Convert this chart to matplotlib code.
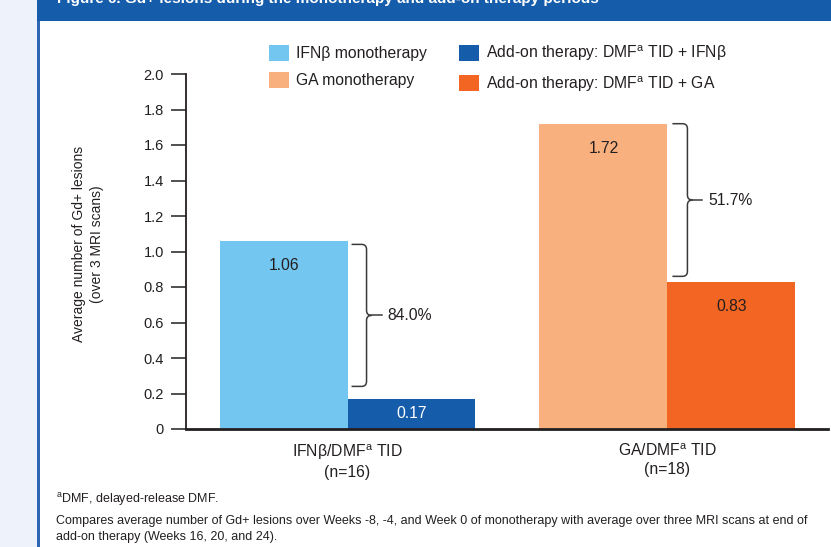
import matplotlib
matplotlib.use("Agg")
import matplotlib.pyplot as plt
from matplotlib import font_manager
from matplotlib.patches import Rectangle, PathPatch
from matplotlib.path import Path

plt.rcParams['font.family'] = ['Liberation Sans', 'DejaVu Sans']
plt.rcParams['mathtext.fontset'] = 'custom'
plt.rcParams['mathtext.rm'] = 'Liberation Sans'
plt.rcParams['mathtext.it'] = 'Liberation Sans'

# ---- data ----
groups = ["IFNβ/DMF$^{\\mathrm{a}}$ TID\n(n=16)", "GA/DMF$^{\\mathrm{a}}$ TID\n(n=18)"]
monotherapy = [1.06, 1.72]
add_on = [0.17, 0.83]
reductions = ["84.0%", "51.7%"]
brace_spans = [(1.04, 0.24), (1.72, 0.86)]
legend_labels = ["IFNβ monotherapy", "GA monotherapy",
                 "Add-on therapy: DMF$^{\\mathrm{a}}$ TID + IFNβ",
                 "Add-on therapy: DMF$^{\\mathrm{a}}$ TID + GA"]
yticks = [0, 0.2, 0.4, 0.6, 0.8, 1.0, 1.2, 1.4, 1.6, 1.8, 2.0]

mono_colors = ["#73C6F0", "#F8B07F"]
addon_colors = ["#155DAB", "#F26522"]
text_color = "#231F20"
header_blue = "#155DAB"

# condensed face for the footnotes when available
try:
    font_manager.findfont("Liberation Sans Narrow", fallback_to_default=False)
    note_family, note_size = ["Liberation Sans Narrow", "DejaVu Sans"], 10.8
except Exception:
    note_family, note_size = ["Liberation Sans", "DejaVu Sans"], 9.0

W, H = 831, 547
fig = plt.figure(figsize=(W / 100, H / 100), dpi=100)
fig.patch.set_facecolor("white")

def fx(px):
    return px / W

def fy(py):
    return 1 - py / H

# page framing: side panel, header band and rule
fig.add_artist(Rectangle((0, 0), fx(37), 1, transform=fig.transFigure,
                         facecolor="#EEF2FA", edgecolor="none", zorder=0))
fig.add_artist(Rectangle((fx(37), 0), fx(3), 1, transform=fig.transFigure,
                         facecolor="#2D67B2", edgecolor="none", zorder=1))
fig.add_artist(Rectangle((fx(37), fy(21)), 1, fy(0) - fy(21), transform=fig.transFigure,
                         facecolor=header_blue, edgecolor="none", zorder=1))
fig.text(fx(57), fy(3), "Figure 6. Gd+ lesions during the monotherapy and add-on therapy periods",
         color="white", fontsize=11, fontweight="bold", va="baseline", ha="left", zorder=2)

# ---- axes ----
ax_left, ax_right, ax_top, ax_bottom = 186, 828, 74, 429
ax = fig.add_axes([fx(ax_left), fy(ax_bottom), fx(ax_right - ax_left), fy(ax_top) - fy(ax_bottom)])
ax.set_facecolor("none")
xlim = (-0.505, 1.502)
ax.set_xlim(*xlim)
ax.set_ylim(0, 2.0)

width = 0.4
idx = list(range(len(groups)))
mono_x = [i - width / 2 for i in idx]
add_x = [i + width / 2 for i in idx]
ax.bar(mono_x, monotherapy, width=width, color=mono_colors, edgecolor="none", zorder=2)
ax.bar(add_x, add_on, width=width, color=addon_colors, edgecolor="none", zorder=2)

for s in ["top", "right"]:
    ax.spines[s].set_visible(False)
ax.spines["left"].set_linewidth(1.3)
ax.spines["left"].set_color(text_color)
ax.spines["bottom"].set_linewidth(2.0)
ax.spines["bottom"].set_color(text_color)
ax.spines["bottom"].set_zorder(3)

ax.set_yticks(yticks)
ax.set_yticklabels(["0" if v == 0 else f"{v:.1f}" for v in yticks])
ax.tick_params(axis="y", direction="out", length=10.5, width=1.1, pad=5.5,
               labelsize=10.5, colors=text_color)
ax.set_xticks(idx)
ax.set_xticklabels(groups, fontsize=11.3, color=text_color, linespacing=1.2)
ax.tick_params(axis="x", length=0, pad=10)

ax.set_ylabel("Average number of Gd+ lesions\n(over 3 MRI scans)", fontsize=10,
              color=text_color, linespacing=1.4)
ax.yaxis.set_label_coords((104 - ax_left) / (ax_right - ax_left), 0.52)

# pixel -> data scale factors
dx = (xlim[1] - xlim[0]) / (ax_right - ax_left)
dy = 2.0 / (ax_bottom - ax_top)

# value labels inside bars
for xs, vals, cols in [(mono_x, monotherapy, [text_color] * 2),
                       (add_x, add_on, ["white", text_color])]:
    for x, v, c in zip(xs, vals, cols):
        off = min(25 * dy, v / 2)
        ax.text(x, v - off, f"{v:.2f}", ha="center", va="center",
                fontsize=11.3, color=c, zorder=4)

# curly braces showing the reduction
def brace(x0, top, bottom, label):
    r = 5
    xv = x0 + 15 * dx
    xt = xv + 15 * dx
    mid = (top + bottom) / 2
    verts = [
        (x0, top), (xv - r * dx, top), (xv, top), (xv, top - r * dy),
        (xv, mid + r * dy), (xv, mid), (xv + r * dx, mid),
        (xv, mid), (xv, mid - r * dy),
        (xv, bottom + r * dy), (xv, bottom), (xv - r * dx, bottom), (x0, bottom),
    ]
    codes = [Path.MOVETO, Path.LINETO, Path.CURVE3, Path.CURVE3,
             Path.LINETO, Path.CURVE3, Path.CURVE3,
             Path.CURVE3, Path.CURVE3,
             Path.LINETO, Path.CURVE3, Path.CURVE3, Path.LINETO]
    ax.add_patch(PathPatch(Path(verts, codes), facecolor="none", edgecolor="#3a3a3a",
                           linewidth=1.1, zorder=4, clip_on=False))
    ax.plot([xv + r * dx, xt], [mid, mid], color="#3a3a3a", linewidth=1.1,
            zorder=4, clip_on=False)
    ax.text(xt + 6 * dx, mid, label, ha="left", va="center", fontsize=11.3,
            color=text_color, zorder=4)

for i, (top, bottom) in enumerate(brace_spans):
    edge = mono_x[i] + width / 2
    brace(edge + (4 + i) * dx, top, bottom, reductions[i])

# legend
handles = [Rectangle((0, 0), 1, 1, facecolor=c, edgecolor="none")
           for c in [mono_colors[0], mono_colors[1], addon_colors[0], addon_colors[1]]]
fig.legend(handles, legend_labels, loc="upper left", bbox_to_anchor=(fx(264), fy(39)),
           ncol=2, frameon=False, fontsize=11.3, handlelength=1.27, handleheight=1.2,
           handletextpad=0.45, columnspacing=2.05, labelspacing=0.68, borderaxespad=0,
           borderpad=0.3, labelcolor=text_color)

# footnotes
fig.text(fx(56), fy(500), "$^{\\mathrm{a}}$DMF, delayed-release DMF.", fontsize=note_size,
         family=note_family, color=text_color, va="center", ha="left")
fig.text(fx(56), fy(529), "Compares average number of Gd+ lesions over Weeks -8, -4, and Week 0 of "
         "monotherapy with average over three MRI scans at end of\nadd-on therapy (Weeks 16, 20, and 24).",
         fontsize=note_size, family=note_family, color=text_color, va="center", ha="left",
         linespacing=1.45)

fig.savefig("out.png", dpi=100)
